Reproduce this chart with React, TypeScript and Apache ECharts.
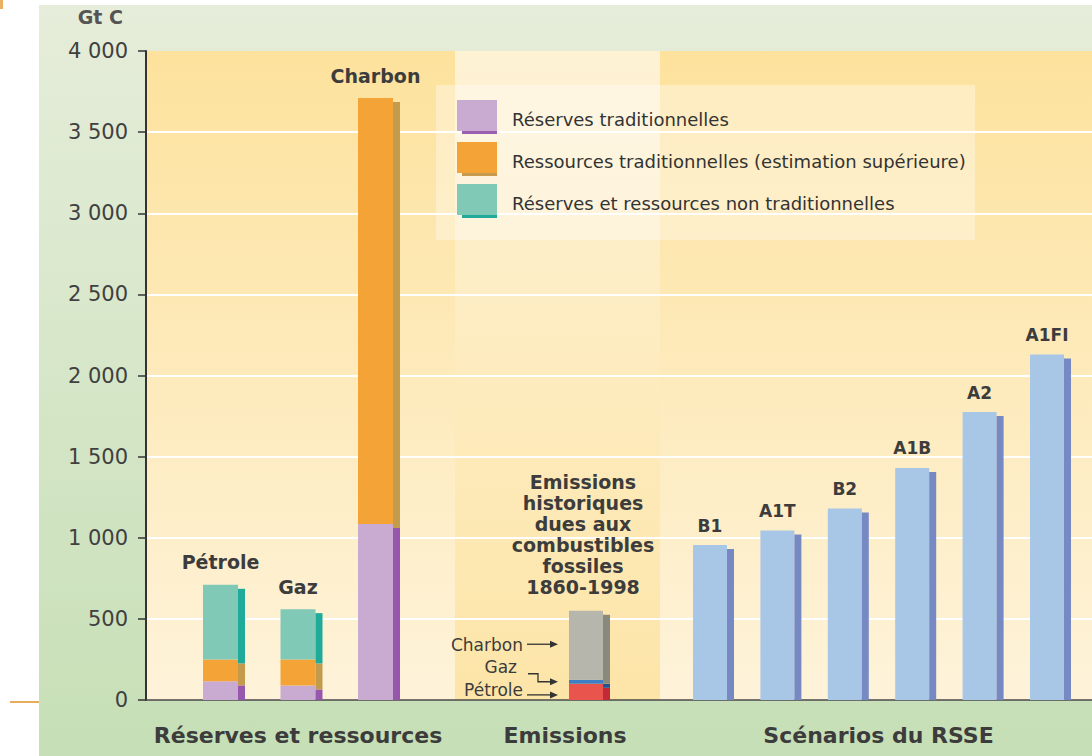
import React, { useEffect, useRef } from 'react';
import * as echarts from 'echarts';

// Fossil carbon: reserves & resources, historic emissions, and SRES scenario totals (Gt C)
const reserveCategories = ['Pétrole', 'Gaz', 'Charbon'];
const traditionalReserves = [115, 90, 1085];
const traditionalResources = [135, 160, 2625];
const unconventionalReserves = [460, 310, 0];

const emissionSources = ['Pétrole', 'Gaz', 'Charbon'];
const historicEmissions = [100, 25, 425];
const emissionsTitle = ['Emissions', 'historiques', 'dues aux', 'combustibles', 'fossiles', '1860-1998'];

const scenarioNames = ['B1', 'A1T', 'B2', 'A1B', 'A2', 'A1FI'];
const scenarioEmissions = [955, 1045, 1180, 1430, 1775, 2130];

const groupLabels = ['Réserves et ressources', 'Emissions', 'Scénarios du RSSE'];
const legendNames = [
  'Réserves traditionnelles',
  'Ressources traditionnelles (estimation supérieure)',
  'Réserves et ressources non traditionnelles',
];
const yAxisUnit = 'Gt C';
const yMax = 4000;
const yStep = 500;

const FONT = '"DejaVu Sans", "Liberation Sans", sans-serif';
const TEXT = '#3c3c3c';
const SIDE = 7; // width of the darker side face
const DROP = 4; // vertical offset of the side face

type SegOpts = {
  barWidth: number;
  color: string;
  shade: string;
  labels?: string[];
  labelGap?: number;
  labelSize?: number;
};

function segmentRenderer(o: SegOpts) {
  return (params: any, api: any) => {
    const cat = api.value(0);
    const lo = api.value(1);
    const hi = api.value(2);
    const pLo = api.coord([cat, lo]);
    const pHi = api.coord([cat, hi]);
    const base = api.coord([cat, 0])[1];
    const x = pLo[0] - o.barWidth / 2;
    const children: any[] = [];
    if (hi > lo) {
      children.push({
        type: 'rect',
        shape: { x, y: pHi[1], width: o.barWidth, height: pLo[1] - pHi[1] },
        style: { fill: o.color },
      });
      const sTop = pHi[1] + DROP;
      const sBot = Math.min(pLo[1] + DROP, base);
      if (sBot > sTop) {
        children.push({
          type: 'rect',
          shape: { x: x + o.barWidth, y: sTop, width: SIDE, height: sBot - sTop },
          style: { fill: o.shade },
        });
      }
    }
    if (o.labels) {
      children.push({
        type: 'text',
        style: {
          text: o.labels[params.dataIndex],
          x: pLo[0],
          y: pHi[1] - (o.labelGap ?? 12),
          align: 'center',
          verticalAlign: 'bottom',
          fontFamily: FONT,
          fontWeight: 'bold',
          fontSize: o.labelSize ?? 19,
          fill: TEXT,
        },
      });
    }
    return { type: 'group', children };
  };
}

function arrowShapes(points: number[][]) {
  const tip = points[points.length - 1];
  const line = points.slice(0, -1).concat([[tip[0] - 5, tip[1]]]);
  return [
    { type: 'polyline', shape: { points: line }, style: { stroke: '#333', lineWidth: 1.3, fill: null } },
    {
      type: 'polygon',
      shape: { points: [tip, [tip[0] - 8, tip[1] - 3.5], [tip[0] - 8, tip[1] + 3.5]] },
      style: { fill: '#333' },
    },
  ];
}

const emissionColors = ['#e9544c', '#3d7fc4', '#b6b6ad'];
const emissionShades = ['#c22a3a', '#245394', '#8a8a7c'];

function emissionsRenderer(params: any, api: any) {
  const bw = 34;
  const cat = api.value(0);
  const base = api.coord([cat, 0]);
  const left = base[0] - bw / 2;
  const children: any[] = [];
  let acc = 0;
  emissionSources.forEach((name, i) => {
    const v = api.value(i + 1);
    const pLo = api.coord([cat, acc]);
    const pHi = api.coord([cat, acc + v]);
    acc += v;
    children.push({
      type: 'rect',
      shape: { x: left, y: pHi[1], width: bw, height: pLo[1] - pHi[1] },
      style: { fill: emissionColors[i] },
    });
    const sTop = pHi[1] + DROP;
    const sBot = Math.min(pLo[1] + DROP, base[1]);
    children.push({
      type: 'rect',
      shape: { x: left + bw, y: sTop, width: SIDE, height: sBot - sTop },
      style: { fill: emissionShades[i] },
    });
    const mid = (pLo[1] + pHi[1]) / 2;
    const tipX = left - 11;
    let textY = mid;
    let textRight = left - 46;
    let pts: number[][];
    if (i === 0) {
      textY = mid - 2;
      pts = [[left - 42, mid + 3], [tipX, mid + 3]];
    } else if (i === 1) {
      textY = mid - 15;
      textRight = left - 52;
      pts = [[left - 41, mid - 8], [left - 31, mid - 8], [left - 31, mid], [tipX, mid]];
    } else {
      pts = [[left - 42, mid - 1], [tipX, mid - 1]];
    }
    children.push({
      type: 'text',
      style: {
        text: name,
        x: textRight,
        y: textY,
        align: 'right',
        verticalAlign: 'middle',
        fontFamily: FONT,
        fontSize: 17,
        fill: TEXT,
      },
    });
    children.push(...arrowShapes(pts));
  });
  const top = api.coord([cat, acc]);
  children.push({
    type: 'text',
    style: {
      text: emissionsTitle.join('\n'),
      x: top[0] - 3,
      y: top[1] - 13,
      align: 'center',
      verticalAlign: 'bottom',
      fontFamily: FONT,
      fontWeight: 'bold',
      fontSize: 19,
      lineHeight: 21,
      fill: TEXT,
    },
  });
  return { type: 'group', children };
}

function thousands(v: number) {
  if (v < 1000) return String(v);
  return `${Math.floor(v / 1000)} ${String(v % 1000).padStart(3, '0')}`;
}

const PLOT_TOP = 51;
const PLOT_H = 649;

function hiddenY(gridIndex: number) {
  return { gridIndex, type: 'value', min: 0, max: yMax, interval: yStep, show: false };
}

function groupAxis(gridIndex: number, data: string[], name: string, padRight = 0) {
  return {
    gridIndex,
    type: 'category',
    data,
    axisLine: { show: false },
    axisTick: { show: false },
    axisLabel: { show: false },
    splitLine: { show: false },
    name,
    nameLocation: 'middle',
    nameGap: 24,
    nameTextStyle: {
      fontFamily: FONT,
      fontWeight: 'bold',
      fontSize: 22,
      color: TEXT,
      padding: [0, padRight, 0, 0],
    },
  };
}

function buildOption() {
  const lin = (c0: string, c1: string) =>
    new echarts.graphic.LinearGradient(0, 0, 0, 1, [
      { offset: 0, color: c0 },
      { offset: 1, color: c1 },
    ]);

  const cumRes = traditionalReserves.map((v, i) => v + traditionalResources[i]);

  return {
    animation: false,
    legend: {
      data: legendNames,
      orient: 'vertical',
      left: 457,
      top: 100,
      padding: 0,
      itemWidth: 40,
      itemHeight: 31,
      itemGap: 11,
      icon: 'rect',
      selectedMode: false,
      formatter: (name: string) => `{t|${name}}`,
      textStyle: {
        fontFamily: FONT,
        fontSize: 18,
        color: '#333',
        padding: [0, 0, 0, 10],
        rich: { t: { fontFamily: FONT, fontSize: 18, color: '#333', padding: [8, 0, 0, 0] } },
      },
    },
    graphic: {
      elements: [
        { type: 'rect', z: -20, shape: { x: 0, y: 0, width: 3, height: 9 }, style: { fill: '#e8b060' } },
        {
          type: 'rect',
          z: -20,
          shape: { x: 39, y: 5, width: 1053, height: 751 },
          style: { fill: lin('#e6edda', '#c6dfb6') },
        },
        { type: 'rect', z: -20, shape: { x: 10, y: 701, width: 29, height: 2 }, style: { fill: '#e7ad5c' } },
        {
          type: 'rect',
          z: -15,
          shape: { x: 147, y: PLOT_TOP, width: 945, height: PLOT_H },
          style: { fill: lin('#fde29d', '#fef3da') },
        },
        {
          type: 'rect',
          z: -14,
          shape: { x: 455, y: PLOT_TOP, width: 205, height: PLOT_H },
          style: { fill: lin('#fef2d5', '#fde5a8') },
        },
        {
          type: 'rect',
          z: 1,
          shape: { x: 436, y: 85, width: 539, height: 155 },
          style: { fill: 'rgba(255,255,255,0.35)' },
        },
        { type: 'rect', z: 3, shape: { x: 462, y: 131, width: 35, height: 3 }, style: { fill: '#9a5fb0' } },
        { type: 'rect', z: 3, shape: { x: 462, y: 173, width: 35, height: 3 }, style: { fill: '#c79a4e' } },
        { type: 'rect', z: 3, shape: { x: 462, y: 215, width: 35, height: 3 }, style: { fill: '#1faa9a' } },
      ],
    },
    grid: [
      { left: 146, top: PLOT_TOP, width: 946, height: PLOT_H },
      { left: 181.75, top: PLOT_TOP, width: 232.5, height: PLOT_H },
      { left: 551, top: PLOT_TOP, width: 70, height: PLOT_H },
      { left: 676.3, top: PLOT_TOP, width: 404.4, height: PLOT_H },
    ],
    xAxis: [
      {
        gridIndex: 0,
        type: 'value',
        min: 0,
        max: 1,
        axisLine: { show: true, lineStyle: { color: '#4a4a4a', width: 1.5 } },
        axisTick: { show: false },
        axisLabel: { show: false },
        splitLine: { show: false },
      },
      groupAxis(1, reserveCategories, groupLabels[0]),
      groupAxis(2, ['Emissions'], groupLabels[1], 42),
      groupAxis(3, scenarioNames, groupLabels[2]),
    ],
    yAxis: [
      {
        gridIndex: 0,
        type: 'value',
        min: 0,
        max: yMax,
        interval: yStep,
        name: yAxisUnit,
        nameLocation: 'end',
        nameGap: 25,
        nameTextStyle: {
          fontFamily: FONT,
          fontWeight: 'bold',
          fontSize: 19,
          color: '#555',
          align: 'right',
          padding: [0, 23, 0, 0],
        },
        axisLine: { show: true, lineStyle: { color: '#333', width: 2 } },
        axisTick: { show: true, length: 8, lineStyle: { color: '#333', width: 1.5 } },
        axisLabel: { margin: 18, formatter: thousands, fontFamily: FONT, fontSize: 21, color: '#404040' },
        splitLine: { show: true, showMinLine: false, showMaxLine: false, lineStyle: { color: '#ffffff', width: 2 } },
      },
      hiddenY(1),
      hiddenY(2),
      hiddenY(3),
    ],
    series: [
      {
        type: 'custom',
        name: legendNames[0],
        xAxisIndex: 1,
        yAxisIndex: 1,
        itemStyle: { color: '#c9aad0' },
        encode: { x: 0, y: [1, 2] },
        data: reserveCategories.map((_, i) => [i, 0, traditionalReserves[i]]),
        renderItem: segmentRenderer({ barWidth: 35, color: '#c9aad0', shade: '#9657ad' }),
      },
      {
        type: 'custom',
        name: legendNames[1],
        xAxisIndex: 1,
        yAxisIndex: 1,
        itemStyle: { color: '#f4a436' },
        encode: { x: 0, y: [1, 2] },
        data: reserveCategories.map((_, i) => [i, traditionalReserves[i], cumRes[i]]),
        renderItem: segmentRenderer({ barWidth: 35, color: '#f4a436', shade: '#c49a4c' }),
      },
      {
        type: 'custom',
        name: legendNames[2],
        xAxisIndex: 1,
        yAxisIndex: 1,
        itemStyle: { color: '#80c9b6' },
        encode: { x: 0, y: [1, 2] },
        data: reserveCategories.map((_, i) => [i, cumRes[i], cumRes[i] + unconventionalReserves[i]]),
        renderItem: segmentRenderer({
          barWidth: 35,
          color: '#80c9b6',
          shade: '#1faa9a',
          labels: reserveCategories,
          labelGap: 13,
          labelSize: 19,
        }),
      },
      {
        type: 'custom',
        name: 'Emissions historiques',
        xAxisIndex: 2,
        yAxisIndex: 2,
        encode: { x: 0, y: [1, 2, 3] },
        data: [[0, ...historicEmissions]],
        renderItem: emissionsRenderer,
      },
      {
        type: 'custom',
        name: 'Scénarios du RSSE',
        xAxisIndex: 3,
        yAxisIndex: 3,
        itemStyle: { color: '#a8c6e6' },
        encode: { x: 0, y: [1, 2] },
        data: scenarioEmissions.map((v, i) => [i, 0, v]),
        renderItem: segmentRenderer({
          barWidth: 34,
          color: '#a8c6e6',
          shade: '#7689c2',
          labels: scenarioNames,
          labelGap: 11,
          labelSize: 17,
        }),
      },
    ],
  };
}

export default function App() {
  const ref = useRef<HTMLDivElement>(null);
  useEffect(() => {
    if (!ref.current) return;
    const chart = echarts.init(ref.current, undefined, { renderer: 'svg' });
    chart.setOption(buildOption() as any);
    return () => chart.dispose();
  }, []);
  return (
    <div
      ref={ref}
      style={{ position: 'absolute', left: 0, top: 0, width: 1092, height: 756, background: '#ffffff' }}
    />
  );
}
